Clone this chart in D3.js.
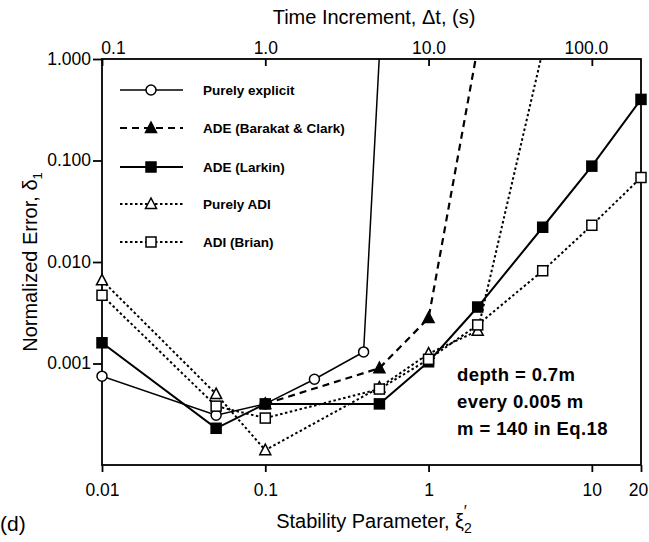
<!DOCTYPE html>
<html>
<head>
<meta charset="utf-8">
<script src="https://cdn.jsdelivr.net/npm/d3@7"></script>
<style>
  html, body { margin: 0; padding: 0; background: #fff; }
  svg { display: block; font-family: "Liberation Sans", Arial, Helvetica, sans-serif; }
</style>
</head>
<body>
<svg id="chart" width="649" height="542"></svg>
<script>
// Normalized error for each scheme against the stability parameter;
// points above the plot top are clipped (the scheme has gone unstable)
const explicitXi = [0.01, 0.05, 0.1, 0.2, 0.4, 0.5];
const explicitErr = [0.00075, 0.00031, 0.0004, 0.0007, 0.0013, 1.1];

const barakatXi = [0.1, 0.5, 1, 2];
const barakatErr = [0.0004, 0.0009, 0.0028, 1.3];

const larkinXi = [0.01, 0.05, 0.1, 0.5, 1, 2, 5, 10, 20];
const larkinErr = [0.0016, 0.00023, 0.0004, 0.0004, 0.00104, 0.0036, 0.022, 0.088, 0.4];

const adiXi = [0.01, 0.05, 0.1, 0.5, 1, 2, 5];
const adiErr = [0.0066, 0.0005, 0.00014, 0.00058, 0.00125, 0.0021, 1.2];

const brianXi = [0.01, 0.05, 0.1, 0.5, 1, 2, 5, 10, 20];
const brianErr = [0.0047, 0.00038, 0.00029, 0.00056, 0.0011, 0.0024, 0.0082, 0.023, 0.068];

// Axis ticks
const bottomTicks = [0.01, 0.1, 1, 10, 20];
const bottomLabels = ["0.01", "0.1", "1", "10", "20"];
const topTicks = [0.01, 0.1, 1, 10];
const topLabels = ["0.1", "1.0", "10.0", "100.0"];
const leftTicks = [1, 0.1, 0.01, 0.001];
const leftLabels = ["1.000", "0.100", "0.010", "0.001"];

const legendNames = ["Purely explicit", "ADE (Barakat & Clark)", "ADE (Larkin)", "Purely ADI", "ADI (Brian)"];
const noteLines = ["depth = 0.7m", "every 0.005 m", "m = 140 in Eq.18"];

const svg = d3.select("#chart");
const plot = { left: 102, right: 641, top: 59, bottom: 465 };

const x = d3.scaleLog().domain([0.01, 20]).range([plot.left, plot.right]);
const y = d3.scaleLog().domain([0.0001, 1]).range([plot.bottom, plot.top]);

const series = [
  { name: legendNames[0], xs: explicitXi, ys: explicitErr, dash: null, width: 1.5, marker: "circle", fill: "#fff" },
  { name: legendNames[1], xs: barakatXi, ys: barakatErr, dash: "7,5", width: 2.2, marker: "triangle", fill: "#000" },
  { name: legendNames[2], xs: larkinXi, ys: larkinErr, dash: null, width: 2, marker: "square", fill: "#000" },
  { name: legendNames[3], xs: adiXi, ys: adiErr, dash: "2.5,2.5", width: 2, marker: "triangle", fill: "#fff" },
  { name: legendNames[4], xs: brianXi, ys: brianErr, dash: "2.5,2.5", width: 2, marker: "square", fill: "#fff" }
];

svg.append("defs").append("clipPath").attr("id", "plotClip")
  .append("rect")
  .attr("x", plot.left).attr("y", plot.top)
  .attr("width", plot.right - plot.left).attr("height", plot.bottom - plot.top);

// Frame
svg.append("rect")
  .attr("x", plot.left).attr("y", plot.top)
  .attr("width", plot.right - plot.left).attr("height", plot.bottom - plot.top)
  .attr("fill", "none").attr("stroke", "#000").attr("stroke-width", 1.8);

// Axes
const tickFont = 17.5;
const leftAxis = d3.axisLeft(y).tickValues(leftTicks).tickSize(9).tickPadding(2)
  .tickFormat((d, i) => leftLabels[i]);
const gL = svg.append("g").attr("transform", `translate(${plot.left},0)`).call(leftAxis);

const bottomAxis = d3.axisBottom(x).tickValues(bottomTicks).tickSize(7).tickPadding(12)
  .tickFormat((d, i) => bottomLabels[i]);
const gB = svg.append("g").attr("transform", `translate(0,${plot.bottom})`).call(bottomAxis);

const topAxis = d3.axisTop(x).tickValues(topTicks).tickSizeInner(-7).tickSizeOuter(0).tickPadding(5)
  .tickFormat((d, i) => topLabels[i]);
const gT = svg.append("g").attr("transform", `translate(0,${plot.top})`).call(topAxis);

[gL, gB, gT].forEach(g => {
  g.select(".domain").remove();
  g.selectAll("line").attr("stroke", "#000").attr("stroke-width", 1.8);
  g.selectAll("text").attr("font-size", tickFont).attr("fill", "#000")
    .attr("font-family", "'Liberation Sans', Arial, sans-serif");
});
gT.selectAll("text").attr("dx", (d, i) => i === 0 ? 11 : (i === 3 ? -6 : 0));
gB.selectAll("text").attr("dx", (d, i) => i === 4 ? -3 : 0);
gL.selectAll("text").attr("dy", "0.3em");

// Axis titles
svg.append("text").attr("x", 374).attr("y", 24).attr("text-anchor", "middle")
  .attr("font-size", 20).text("Time Increment, \u0394t, (s)");

svg.append("text").attr("transform", "translate(37,262) rotate(-90)").attr("text-anchor", "middle")
  .attr("font-size", 20)
  .call(t => {
    t.append("tspan").text("Normalized Error, \u03B4");
    t.append("tspan").attr("font-size", 13).attr("dy", 5).text("1");
  });

svg.append("text").attr("x", 374).attr("y", 528).attr("text-anchor", "middle")
  .attr("font-size", 20)
  .call(t => {
    t.append("tspan").text("Stability Parameter, \u03BE");
    t.append("tspan").attr("font-size", 14).attr("dy", 5).text("2");
    t.append("tspan").attr("font-size", 16).attr("dx", -8).attr("dy", -16).text("\u2032");
  });

svg.append("text").attr("x", 0).attr("y", 531).attr("font-size", 21).text("(d)");

// Marker drawing
function drawMarker(g, type, cx, cy, fill) {
  const s = 5;
  if (type === "circle") {
    g.append("circle").attr("cx", cx).attr("cy", cy).attr("r", s)
      .attr("fill", fill).attr("stroke", "#000").attr("stroke-width", 1.5);
  } else if (type === "square") {
    g.append("rect").attr("x", cx - s).attr("y", cy - s).attr("width", 2 * s).attr("height", 2 * s)
      .attr("fill", fill).attr("stroke", "#000").attr("stroke-width", 1.5);
  } else {
    g.append("path")
      .attr("d", `M${cx},${cy - 6}L${cx + 5.5},${cy + 4.5}L${cx - 5.5},${cy + 4.5}Z`)
      .attr("fill", fill).attr("stroke", "#000").attr("stroke-width", 1.5);
  }
}

// Lines and markers
const line = d3.line().x(d => x(d[0])).y(d => y(d[1]));
const plotG = svg.append("g");
series.forEach(s => {
  const pts = s.xs.map((v, i) => [v, s.ys[i]]);
  plotG.append("path").datum(pts)
    .attr("d", line)
    .attr("clip-path", "url(#plotClip)")
    .attr("fill", "none").attr("stroke", "#000")
    .attr("stroke-width", s.width)
    .attr("stroke-dasharray", s.dash);
});
series.forEach(s => {
  const g = plotG.append("g");
  s.xs.forEach((v, i) => {
    if (s.ys[i] <= 1) drawMarker(g, s.marker, x(v), y(s.ys[i]), s.fill);
  });
});

// Legend
const legend = svg.append("g");
const legendY = [90, 128, 167, 204, 242];
series.forEach((s, i) => {
  const ly = legendY[i];
  legend.append("line").attr("x1", 120).attr("x2", 183).attr("y1", ly).attr("y2", ly)
    .attr("stroke", "#000").attr("stroke-width", s.width).attr("stroke-dasharray", s.dash);
  drawMarker(legend, s.marker, 151, ly, s.fill);
  legend.append("text").attr("x", 203).attr("y", ly + 5).attr("font-size", 13.5)
    .attr("font-weight", "bold").text(s.name);
});

// Annotation
noteLines.forEach((t, i) => {
  svg.append("text").attr("x", 457).attr("y", 381 + i * 27).attr("font-size", 18.5)
    .attr("font-weight", 600).attr("letter-spacing", 0.4).text(t);
});
</script>
</body>
</html>
